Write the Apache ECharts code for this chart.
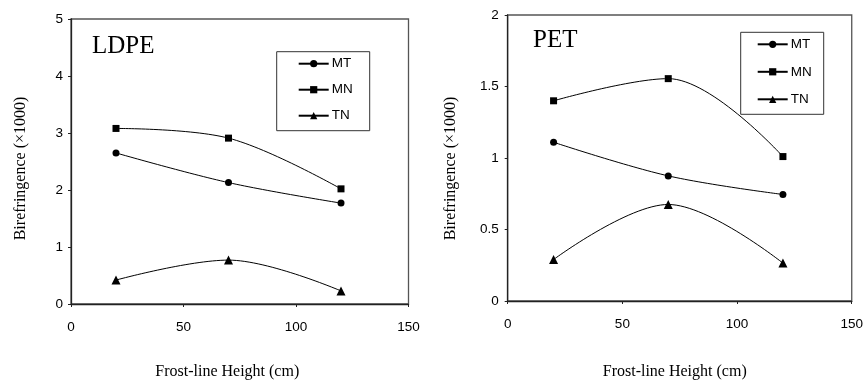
<!DOCTYPE html>
<html>
<head>
<meta charset="utf-8">
<script src="https://cdn.jsdelivr.net/npm/echarts@6/dist/echarts.min.js"></script>
<style>html,body{margin:0;padding:0;background:#fff}#c{width:866px;height:385px}</style>
</head>
<body>
<div id="c"></div>
<script>
const heights = [20, 70, 120];
const ldpeMT = [2.65, 2.13, 1.77];
const ldpeMN = [3.08, 2.91, 2.02];
const ldpeTN = [0.42, 0.77, 0.23];
const petMT = [1.11, 0.875, 0.745];
const petMN = [1.40, 1.555, 1.01];
const petTN = [0.29, 0.675, 0.265];
const seriesNames = ['MT', 'MN', 'TN'];
const symbols = ['circle', 'rect', 'triangle'];
const panelTitles = ['LDPE', 'PET'];
const xName = 'Frost-line Height (cm)';
const yName = 'Birefringence (\u00d71000)';

const pairs = (xs, ys) => xs.map((x, i) => [x, ys[i]]);
const serif = '"Liberation Serif","Times New Roman",serif';
const sans = '"Liberation Sans",Arial,sans-serif';

function mkSeries(idx, arrs) {
  return arrs.map((arr, k) => ({
    name: seriesNames[k],
    type: 'line',
    xAxisIndex: idx, yAxisIndex: idx,
    data: pairs(heights, arr),
    smooth: 0.35,
    symbol: symbols[k],
    symbolSize: k === 2 ? 9 : 7,
    lineStyle: {color: '#000', width: 1},
    itemStyle: {color: '#000'},
    emphasis: {disabled: true},
    animation: false
  }));
}

function xAx(idx, gridIdx, pad, gap) {
  return {
    type: 'value', gridIndex: gridIdx, min: 0, max: 150, interval: 50,
    axisLine: {show: true, onZero: false, lineStyle: {color: '#222', width: 1.3}},
    axisTick: {show: true, length: 3, lineStyle: {color: '#222'}},
    axisLabel: {margin: 16, fontFamily: sans, fontSize: 13.5, color: '#000'},
    splitLine: {show: false},
    name: xName, nameLocation: 'middle', nameGap: gap,
    nameTextStyle: {fontFamily: serif, fontSize: 16, color: '#000', padding: [0, pad, 0, 0]}
  };
}
function yAx(gridIdx, max, interval, gap, pad, margin) {
  return {
    type: 'value', gridIndex: gridIdx, min: 0, max: max, interval: interval,
    axisLine: {show: true, lineStyle: {color: '#222', width: 1.3}},
    axisTick: {show: true, length: 3, lineStyle: {color: '#222'}},
    axisLabel: {margin: margin, fontFamily: sans, fontSize: 13.5, color: '#000'},
    splitLine: {show: false},
    name: yName, nameLocation: 'middle', nameGap: gap, nameRotate: 90,
    nameTextStyle: {fontFamily: serif, fontSize: 16, color: '#000', padding: [0, pad, 0, 0]}
  };
}
function legend(left, top, gap, padding) {
  return {
    left: left, top: top, orient: 'vertical',
    data: seriesNames,
    itemWidth: 30, itemHeight: 9, itemGap: gap,
    borderColor: '#333', borderWidth: 1, borderRadius: 0,
    padding: padding,
    selectedMode: false,
    textStyle: {fontFamily: sans, fontSize: 13.5, color: '#000', padding: [0, 0, 0, -2]},
    backgroundColor: '#fff'
  };
}

const chart = echarts.init(document.getElementById('c'), null, {renderer: 'canvas'});
chart.setOption({
  backgroundColor: '#fff',
  animation: false,
  title: [
    {text: panelTitles[0], left: 92, top: 34, textStyle: {fontFamily: serif, fontSize: 25, fontWeight: 'normal', color: '#000'}, padding: 0},
    {text: panelTitles[1], left: 533, top: 28, textStyle: {fontFamily: serif, fontSize: 25, fontWeight: 'normal', color: '#000'}, padding: 0}
  ],
  grid: [
    {left: 71, top: 19, width: 337.5, height: 286, show: true, borderColor: '#555', borderWidth: 1.3, backgroundColor: 'transparent'},
    {left: 507.7, top: 15, width: 345.6, height: 287, show: true, borderColor: '#555', borderWidth: 1.3, backgroundColor: 'transparent'}
  ],
  xAxis: [xAx(0, 0, 25, 60), xAx(1, 1, 10, 63)],
  yAxis: [yAx(0, 5, 1, 42, 14, 8), yAx(1, 2, 0.5, 49, 21, 9)],
  legend: [legend(276.7, 51.7, 12, [5, 17, 8, 21]), legend(740.7, 32.3, 13.5, [5, 12, 8, 16])],
  series: [].concat(mkSeries(0, [ldpeMT, ldpeMN, ldpeTN]), mkSeries(1, [petMT, petMN, petTN]))
});
</script>
</body>
</html>
